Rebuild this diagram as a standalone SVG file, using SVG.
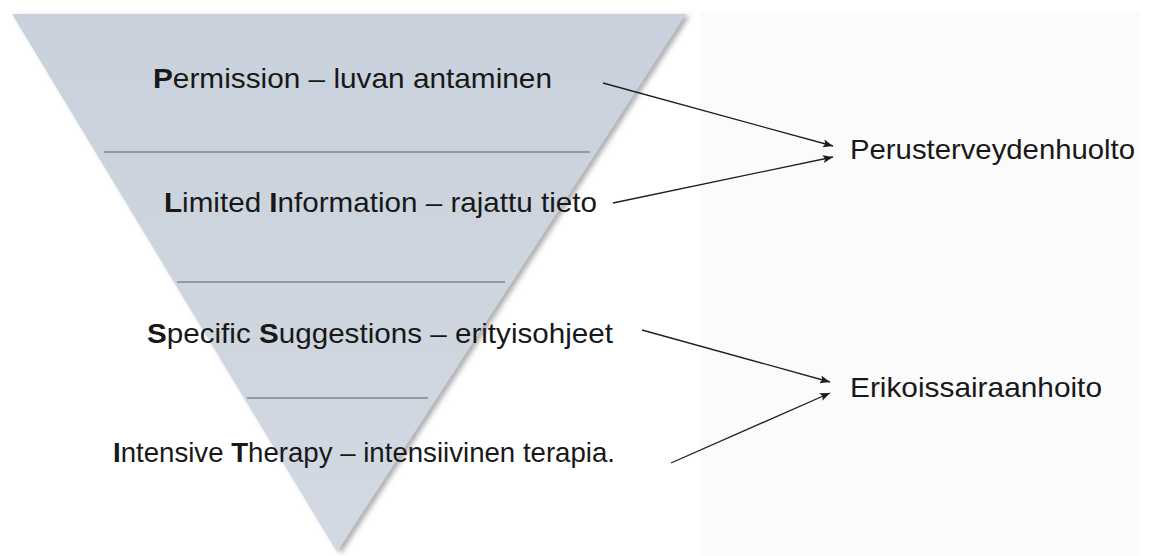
<svg xmlns="http://www.w3.org/2000/svg" width="1153" height="556" viewBox="0 0 1153 556">
<style>
.t{font-family:"Liberation Sans",Arial,sans-serif;font-size:28.5px;fill:#181818}
.b{font-weight:bold}
.div{stroke:#7d8795;stroke-width:1.3}
.conn{stroke:#1e1e1e;stroke-width:1.3;fill:none;marker-end:url(#ah)}
</style>
<defs>
<linearGradient id="g" x1="0" y1="0" x2="0" y2="1">
<stop offset="0" stop-color="#c9d1dc"/>
<stop offset="1" stop-color="#d2d9e2"/>
</linearGradient>
<filter id="sh" x="-10%" y="-10%" width="130%" height="130%">
<feDropShadow dx="4" dy="2" stdDeviation="2.5" flood-color="#7a7a7a" flood-opacity="0.6"/>
</filter>
<marker id="ah" markerWidth="10" markerHeight="8" refX="10" refY="4" orient="auto" markerUnits="userSpaceOnUse">
<path d="M0,0 L10,4 L0,8 L2,4 Z" fill="#1e1e1e"/>
</marker>
</defs>
<rect width="1153" height="556" fill="#ffffff"/>
<rect x="700" y="12" width="440" height="544" fill="#fbfbfc"/>
<g id="pyramid">
<polygon points="12,14 686,14 337,552" fill="url(#g)" filter="url(#sh)"/>
<line class="div" x1="104" y1="152" x2="590" y2="152"/>
<line class="div" x1="177" y1="282" x2="505" y2="282"/>
<line class="div" x1="247" y1="398" x2="428" y2="398"/>
</g>
<g id="level1"><text class="t" x="153" y="88" textLength="399" lengthAdjust="spacingAndGlyphs"><tspan class="b">P</tspan>ermission – luvan antaminen</text></g>
<g id="level2"><text class="t" x="164" y="212" textLength="433" lengthAdjust="spacingAndGlyphs"><tspan class="b">L</tspan>imited <tspan class="b">I</tspan>nformation – rajattu tieto</text></g>
<g id="level3"><text class="t" x="147" y="343" textLength="466" lengthAdjust="spacingAndGlyphs"><tspan class="b">S</tspan>pecific <tspan class="b">S</tspan>uggestions – erityisohjeet</text></g>
<g id="level4"><text class="t" x="113" y="462" textLength="502" lengthAdjust="spacingAndGlyphs"><tspan class="b">I</tspan>ntensive <tspan class="b">T</tspan>herapy – intensiivinen terapia.</text></g>
<g id="perus"><text class="t" x="850" y="159" textLength="285" lengthAdjust="spacingAndGlyphs">Perusterveydenhuolto</text></g>
<g id="erik"><text class="t" x="850" y="397" textLength="252" lengthAdjust="spacingAndGlyphs">Erikoissairaanhoito</text></g>
<g id="connectors">
<line class="conn" x1="603" y1="83" x2="833" y2="146"/>
<line class="conn" x1="613" y1="203" x2="833" y2="157"/>
<line class="conn" x1="642" y1="330" x2="830" y2="382"/>
<line class="conn" x1="671" y1="463" x2="830" y2="393"/>
</g>
</svg>
